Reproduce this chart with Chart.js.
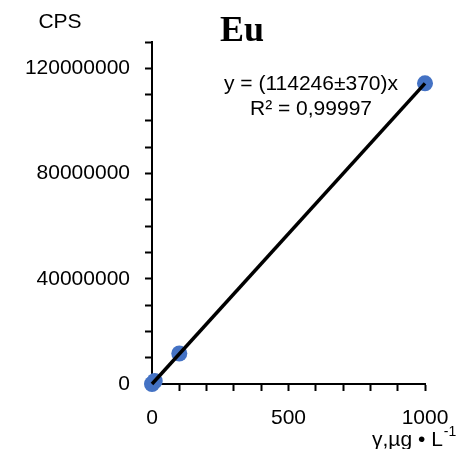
<!DOCTYPE html>
<html>
<head>
<meta charset="utf-8">
<script src="https://cdn.jsdelivr.net/npm/chart.js@4"></script>
<style>
html,body{margin:0;padding:0;background:#fff;}
#wrap{width:460px;height:449px;position:relative;}
</style>
</head>
<body>
<div id="wrap"><canvas id="c" width="460" height="449"></canvas></div>
<script>
// Data
const concentrations = [0, 10, 100, 1000];          // γ, µg·L-1
const cps = [0, 1150000, 11600000, 114300000];      // CPS
const slope = 114246;                               // fitted slope
const slopeErr = 370;
const r2Text = "0,99997";
const fitX = [0, 1000];
const yTickLabels = [0, 40000000, 80000000, 120000000];
const xTickLabels = [0, 500, 1000];

const FONT = "'Liberation Sans', Arial, sans-serif";

const points = concentrations.map((x, i) => ({x: x, y: cps[i]}));
const fitLine = fitX.map(x => ({x: x, y: slope * x}));

const textPlugin = {
  id: 'texts',
  afterDraw(chart) {
    const ctx = chart.ctx;
    ctx.save();
    ctx.fillStyle = '#000';
    // Title
    ctx.font = "bold 36px 'Liberation Serif', 'Times New Roman', serif";
    ctx.textAlign = 'center';
    ctx.textBaseline = 'alphabetic';
    ctx.fillText('Eu', 242, 41);
    // y axis label
    ctx.font = "21px " + FONT;
    ctx.fillText('CPS', 60, 28);
    // equation
    ctx.fillText('y = (' + slope + '±' + slopeErr + ')x', 311, 90);
    // R²
    ctx.fillText('R² = ' + r2Text, 311, 115);
    // x axis label
    ctx.textAlign = 'left';
    let x0 = 372, yb = 446;
    const main = 'γ,µg • L';
    ctx.font = "21px " + FONT;
    ctx.fillText(main, x0, yb);
    const w = ctx.measureText(main).width;
    ctx.font = "14px " + FONT;
    ctx.fillText('-1', x0 + w + 1, yb - 10);
    ctx.restore();
  }
};

new Chart(document.getElementById('c'), {
  type: 'scatter',
  data: {
    datasets: [
      {
        type: 'line',
        data: fitLine,
        borderColor: '#000',
        borderWidth: 3.5,
        pointRadius: 0,
        fill: false,
        tension: 0,
        clip: false
      },
      {
        data: points,
        backgroundColor: '#4472C4',
        borderWidth: 0,
        pointRadius: 8,
        pointHoverRadius: 8,
        clip: false
      }
    ]
  },
  options: {
    responsive: false,
    animation: false,
    events: [],
    layout: {autoPadding: false, padding: {top: 42, right: 35, left: 0, bottom: 0}},
    plugins: {legend: {display: false}, tooltip: {enabled: false}, title: {display: false}},
    scales: {
      x: {
        type: 'linear',
        min: 0, max: 1000,
        afterFit(s) { s.height = 65; s.paddingLeft = 0; s.paddingRight = 0; },
        grid: {drawOnChartArea: false, drawTicks: true, tickLength: 7, color: '#000', tickWidth: 2},
        border: {display: true, color: '#000', width: 2},
        ticks: {
          stepSize: 100,
          autoSkip: false,
          maxRotation: 0,
          padding: 15,
          color: '#000',
          font: {family: FONT, size: 21},
          callback: v => xTickLabels.includes(v) ? String(v) : ''
        }
      },
      y: {
        type: 'linear',
        min: 0, max: 130000000,
        afterFit(s) { s.width = 152; s.paddingTop = 0; s.paddingBottom = 0; },
        grid: {drawOnChartArea: false, drawTicks: true, tickLength: 7, color: '#000', tickWidth: 2},
        border: {display: true, color: '#000', width: 2},
        ticks: {
          stepSize: 10000000,
          autoSkip: false,
          padding: 15,
          color: '#000',
          font: {family: FONT, size: 21},
          callback: v => yTickLabels.includes(v) ? String(v) : ''
        }
      }
    }
  },
  plugins: [textPlugin]
});
</script>
</body>
</html>
